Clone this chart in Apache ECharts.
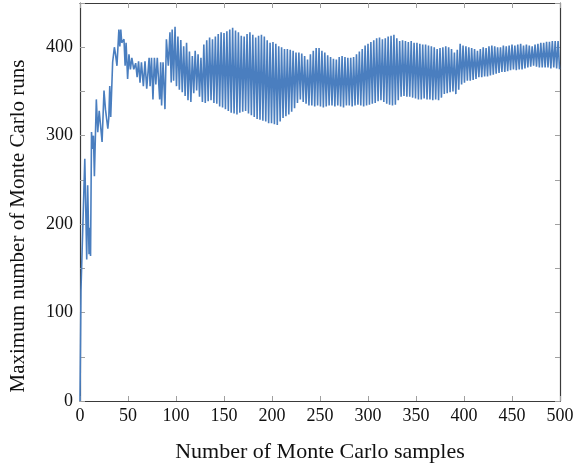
<!DOCTYPE html>
<html>
<head>
<meta charset="utf-8">
<script src="https://cdn.jsdelivr.net/npm/echarts@6/dist/echarts.min.js"></script>
<style>
html,body{margin:0;padding:0;background:#fff;}
#chart{width:579px;height:468px;}
</style>
</head>
<body>
<div id="chart"></div>
<script>
// Early irregular part: [sample, value]
const earlyX = [0,1,5,7,8,9.4,10,11,12,13,14,15,17,18.5,20,23,25,26.5,28,29,30,31,32,34,35.8,37,38.5,40.5,41.5,42.5,43.5,45.8,47,48,49.6,51,52.5,54,56,58,59.5,61,62.5,64,66,67.7,69.5,72,73,74.5,76,77.5,79,80.5,83,84,85,86.5,88.5,90,92,93.7,95];
const earlyY = [0,125,274,160,244,166,196,164,304,285,300,254,341,304,328,293,351,330,332,308,320,356,321,383,400,392,379,420,401,420,405,409,379,405,364,392,375,388,375,382,366,384,360,383,356,384,353,388,356,388,341,388,358,388,341,383,334,383,330,409,379,417,360];

// Oscillating part: one high/low pair every 3 samples starting at sample 96
const cycleStart = 96;
const cycleStep = 3;
const upper = [420,423,412,408,401,405,395,390,396,392,388,403,408,411,409,412,415,417,416,418,420,422,419,417,413,412,415,417,414,411,413,414,412,408,405,406,404,401,400,398,398,397,396,394,394,393,390,386,392,396,399,399,396,394,391,389,387,386,389,390,389,388,388,389,392,395,398,402,404,406,408,410,411,409,410,412,413,414,410,407,408,407,406,407,405,405,404,403,403,402,401,400,398,399,400,401,400,398,394,397,404,402,401,400,399,398,396,398,400,399,401,402,401,400,400,402,401,402,403,402,403,404,402,403,402,401,403,404,405,405,406,406,407,407,407];
const lower = [362,356,352,349,345,340,338,348,351,344,338,337,339,340,337,336,333,332,330,328,326,325,324,326,327,328,325,323,321,319,318,317,316,314,314,313,312,316,320,322,324,327,331,337,341,338,336,334,334,333,334,333,332,333,334,334,333,334,333,332,334,334,333,334,335,334,333,334,335,336,337,339,340,338,336,335,334,335,340,344,345,344,344,343,342,341,341,342,341,341,340,341,340,343,347,348,349,350,347,352,358,360,362,362,363,364,366,366,367,367,368,369,370,371,372,372,373,374,375,374,375,375,376,377,378,379,378,377,377,377,377,376,377,376,375];

const xTicks = [0,50,100,150,200,250,300,350,400,450,500];
const yTicks = [0,100,200,300,400];
const xTitle = 'Number of Monte Carlo samples';
const yTitle = 'Maximum number of Monte Carlo runs';

const data = [];
for (let i = 0; i < earlyX.length; i++) data.push([earlyX[i], earlyY[i]]);
for (let i = 0; i < upper.length; i++) {
  const x = cycleStart + cycleStep * i;
  data.push([x, upper[i]]);
  data.push([x + cycleStep / 2, lower[i]]);
}

const font = '"Liberation Serif", "DejaVu Serif", serif';
const axisLineStyle = {color: '#3a3a3a', width: 1.2};
const tickStyle = {color: '#a0a0a0', width: 1};

const chart = echarts.init(document.getElementById('chart'), null, {renderer: 'canvas'});
chart.setOption({
  animation: false,
  backgroundColor: '#fff',
  grid: {left: 80, right: 19, top: 3, bottom: 63, containLabel: false},
  xAxis: [{
    type: 'value', min: 0, max: 500, interval: 50, position: 'bottom',
    name: xTitle, nameLocation: 'middle', nameGap: 40,
    nameTextStyle: {fontFamily: font, fontSize: 22, color: '#111'},
    axisLine: {show: true, onZero: false, lineStyle: axisLineStyle},
    axisTick: {show: true, inside: true, length: 5, lineStyle: tickStyle},
    axisLabel: {fontFamily: font, fontSize: 18, color: '#111', margin: 6,
      formatter: v => xTicks.indexOf(v) >= 0 ? String(v) : ''},
    splitLine: {show: false}
  }, {
    type: 'value', min: 0, max: 500, interval: 50, position: 'top',
    axisLine: {show: true, onZero: false, lineStyle: axisLineStyle},
    axisTick: {show: true, inside: true, length: 5, lineStyle: tickStyle},
    axisLabel: {show: false}, splitLine: {show: false}
  }],
  yAxis: [{
    type: 'value', min: 0, max: 450, interval: 50, position: 'left',
    axisLine: {show: true, onZero: false, lineStyle: axisLineStyle},
    axisTick: {show: true, inside: true, length: 5, lineStyle: tickStyle},
    axisLabel: {fontFamily: font, fontSize: 18, color: '#111', margin: 7,
      formatter: v => yTicks.indexOf(v) >= 0 ? String(v) : ''},
    splitLine: {show: false}
  }, {
    type: 'value', min: 0, max: 450, interval: 50, position: 'right',
    axisLine: {show: true, onZero: false, lineStyle: axisLineStyle},
    axisTick: {show: true, inside: true, length: 5, lineStyle: tickStyle},
    axisLabel: {show: false}, splitLine: {show: false}
  }],
  graphic: [{
    type: 'text', x: 18, y: 226, rotation: Math.PI / 2,
    style: {text: yTitle, font: '21px "Liberation Serif", serif', fill: '#111',
      textAlign: 'center', textVerticalAlign: 'middle'}
  }],
  series: [{
    type: 'line', xAxisIndex: 0, yAxisIndex: 0,
    data: data, showSymbol: false, symbol: 'none', sampling: null,
    lineStyle: {color: '#4a7ebf', width: 1.6}
  }]
});
</script>
</body>
</html>
